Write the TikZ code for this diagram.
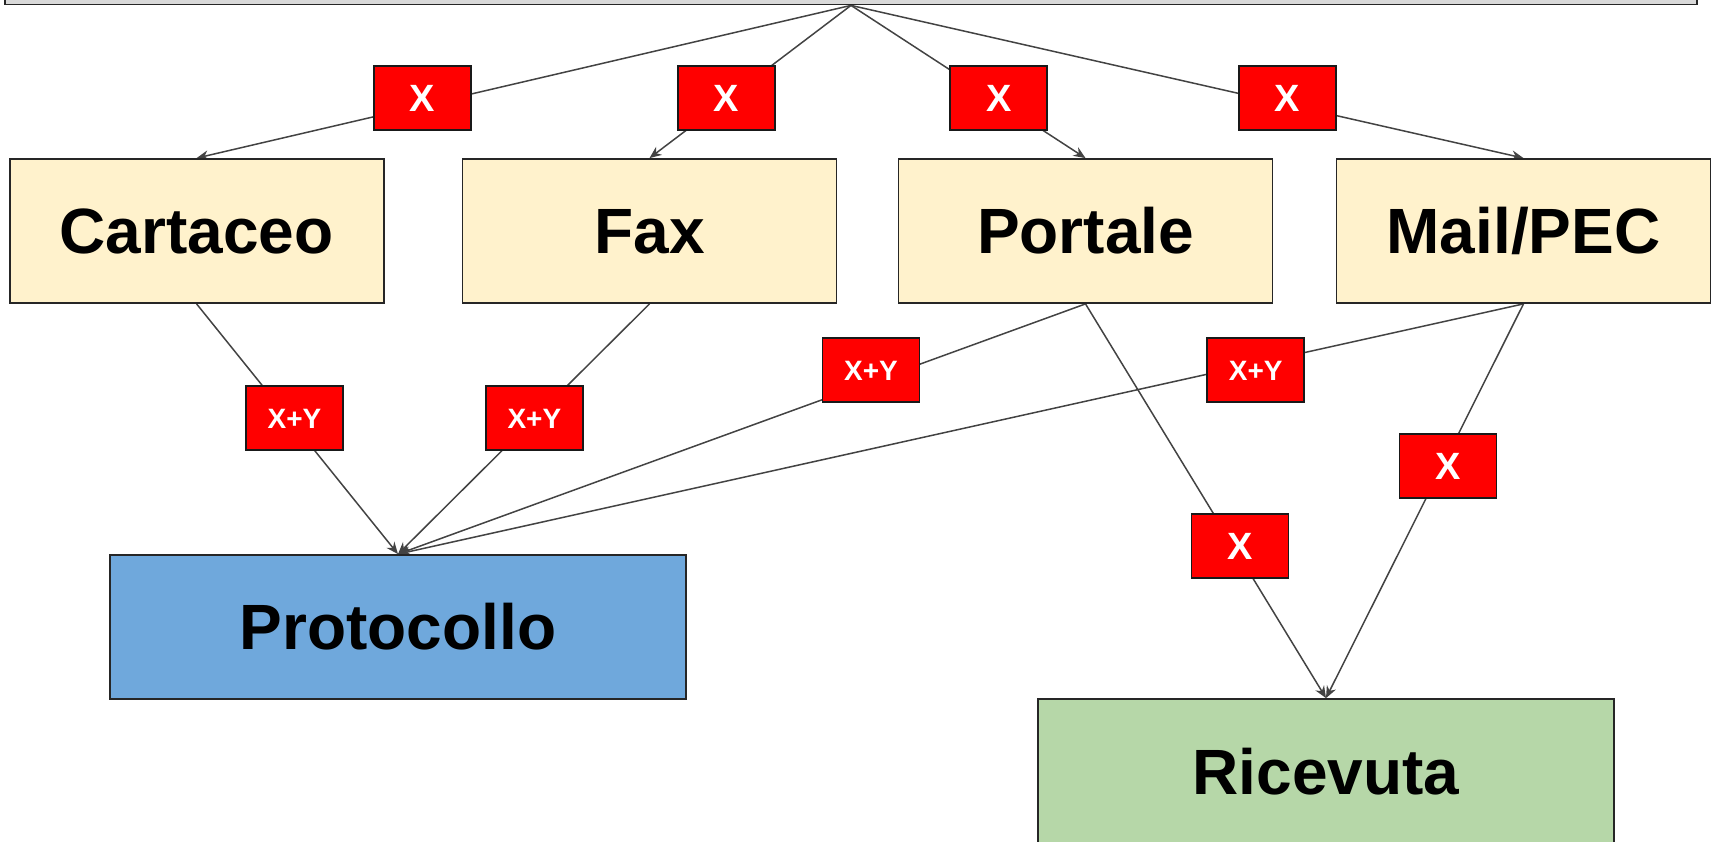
\documentclass[tikz,border=0pt]{standalone}
\usepackage{fontspec}
\setmainfont{Liberation Sans}
\usetikzlibrary{arrows.meta,backgrounds}

\definecolor{linegray}{HTML}{434343}
\definecolor{srcfill}{HTML}{FFF2CC}
\definecolor{protfill}{HTML}{6FA8DC}
\definecolor{ricfill}{HTML}{B6D7A8}
\definecolor{topfill}{HTML}{D9D9D9}
\definecolor{costred}{HTML}{FF0000}

\tikzset{
  box/.style={draw=black!85, line width=1.8pt, inner sep=0pt,
    minimum width=374pt, minimum height=144pt,
    font=\bfseries\fontsize{64}{70}\selectfont,
    text height=45.8pt, text depth=0pt},
  srcbox/.style={box, fill=srcfill},
  cost/.style={draw=black!90, line width=1.8pt, fill=costred, inner sep=0pt,
    minimum width=97pt, minimum height=64pt, text=white, text depth=0pt},
  costx/.style={cost, font=\bfseries\fontsize{38}{42}\selectfont, text height=27.2pt},
  costxy/.style={cost, font=\bfseries\fontsize{28}{32}\selectfont, text height=20pt},
  flow/.style={draw=linegray, line width=1.5pt},
  flowarrow/.style={flow, -{Stealth[length=12pt,width=10pt]}},
}

\begin{document}
\begin{tikzpicture}[x=1pt,y=-1pt]
  \clip (0,0) rectangle (1713,842);

  % top bar, mostly above the page edge
  \node[draw=black!85, line width=1.8pt, fill=topfill, inner sep=0pt,
        minimum width=1692pt, minimum height=80pt] (top) at (851,-35.5) {};

  % channels
  \node[srcbox] (cart) at (196.6,231) {Cartaceo};
  \node[srcbox] (fax)  at (649.5,231) {Fax};
  \node[srcbox] (port) at (1085.5,231) {Portale};
  \node[srcbox] (mail) at (1523.5,231) {Mail/PEC};

  % destinations
  \node[box, fill=protfill, minimum width=576pt] (prot) at (398,627) {Protocollo};
  \node[box, fill=ricfill, minimum width=576pt, minimum height=146pt] (ric) at (1326,772) {Ricevuta};

  % cost tags on the connectors
  \node[costx] (c1) at (422.5,98) {X};
  \node[costx] (c2) at (726.5,98) {X};
  \node[costx] (c3) at (998.7,98) {X};
  \node[costx] (c4) at (1287.4,98) {X};

  \node[costxy] (p1) at (294.5,418) {X+Y};
  \node[costxy] (p2) at (534.4,418) {X+Y};
  \node[costxy] (p3) at (871,370) {X+Y};
  \node[costxy] (p4) at (1255.7,370) {X+Y};

  \node[costx] (r1) at (1240,546) {X};
  \node[costx] (r2) at (1448,466) {X};

  \begin{scope}[on background layer]
    \draw[flowarrow] (top.south) -- (cart.north);
    \draw[flowarrow] (top.south) -- (fax.north);
    \draw[flowarrow] (top.south) -- (port.north);
    \draw[flowarrow] (top.south) -- (mail.north);

    \draw[flowarrow] (cart.south) -- (prot.north);
    \draw[flowarrow] (fax.south)  -- (prot.north);
    \draw[flowarrow] (port.south) -- (prot.north);
    \draw[flowarrow] (mail.south) -- (prot.north);

    \draw[flowarrow] (port.south) -- (ric.north);
    \draw[flowarrow] (mail.south) -- (ric.north);
  \end{scope}
\end{tikzpicture}
\end{document}
